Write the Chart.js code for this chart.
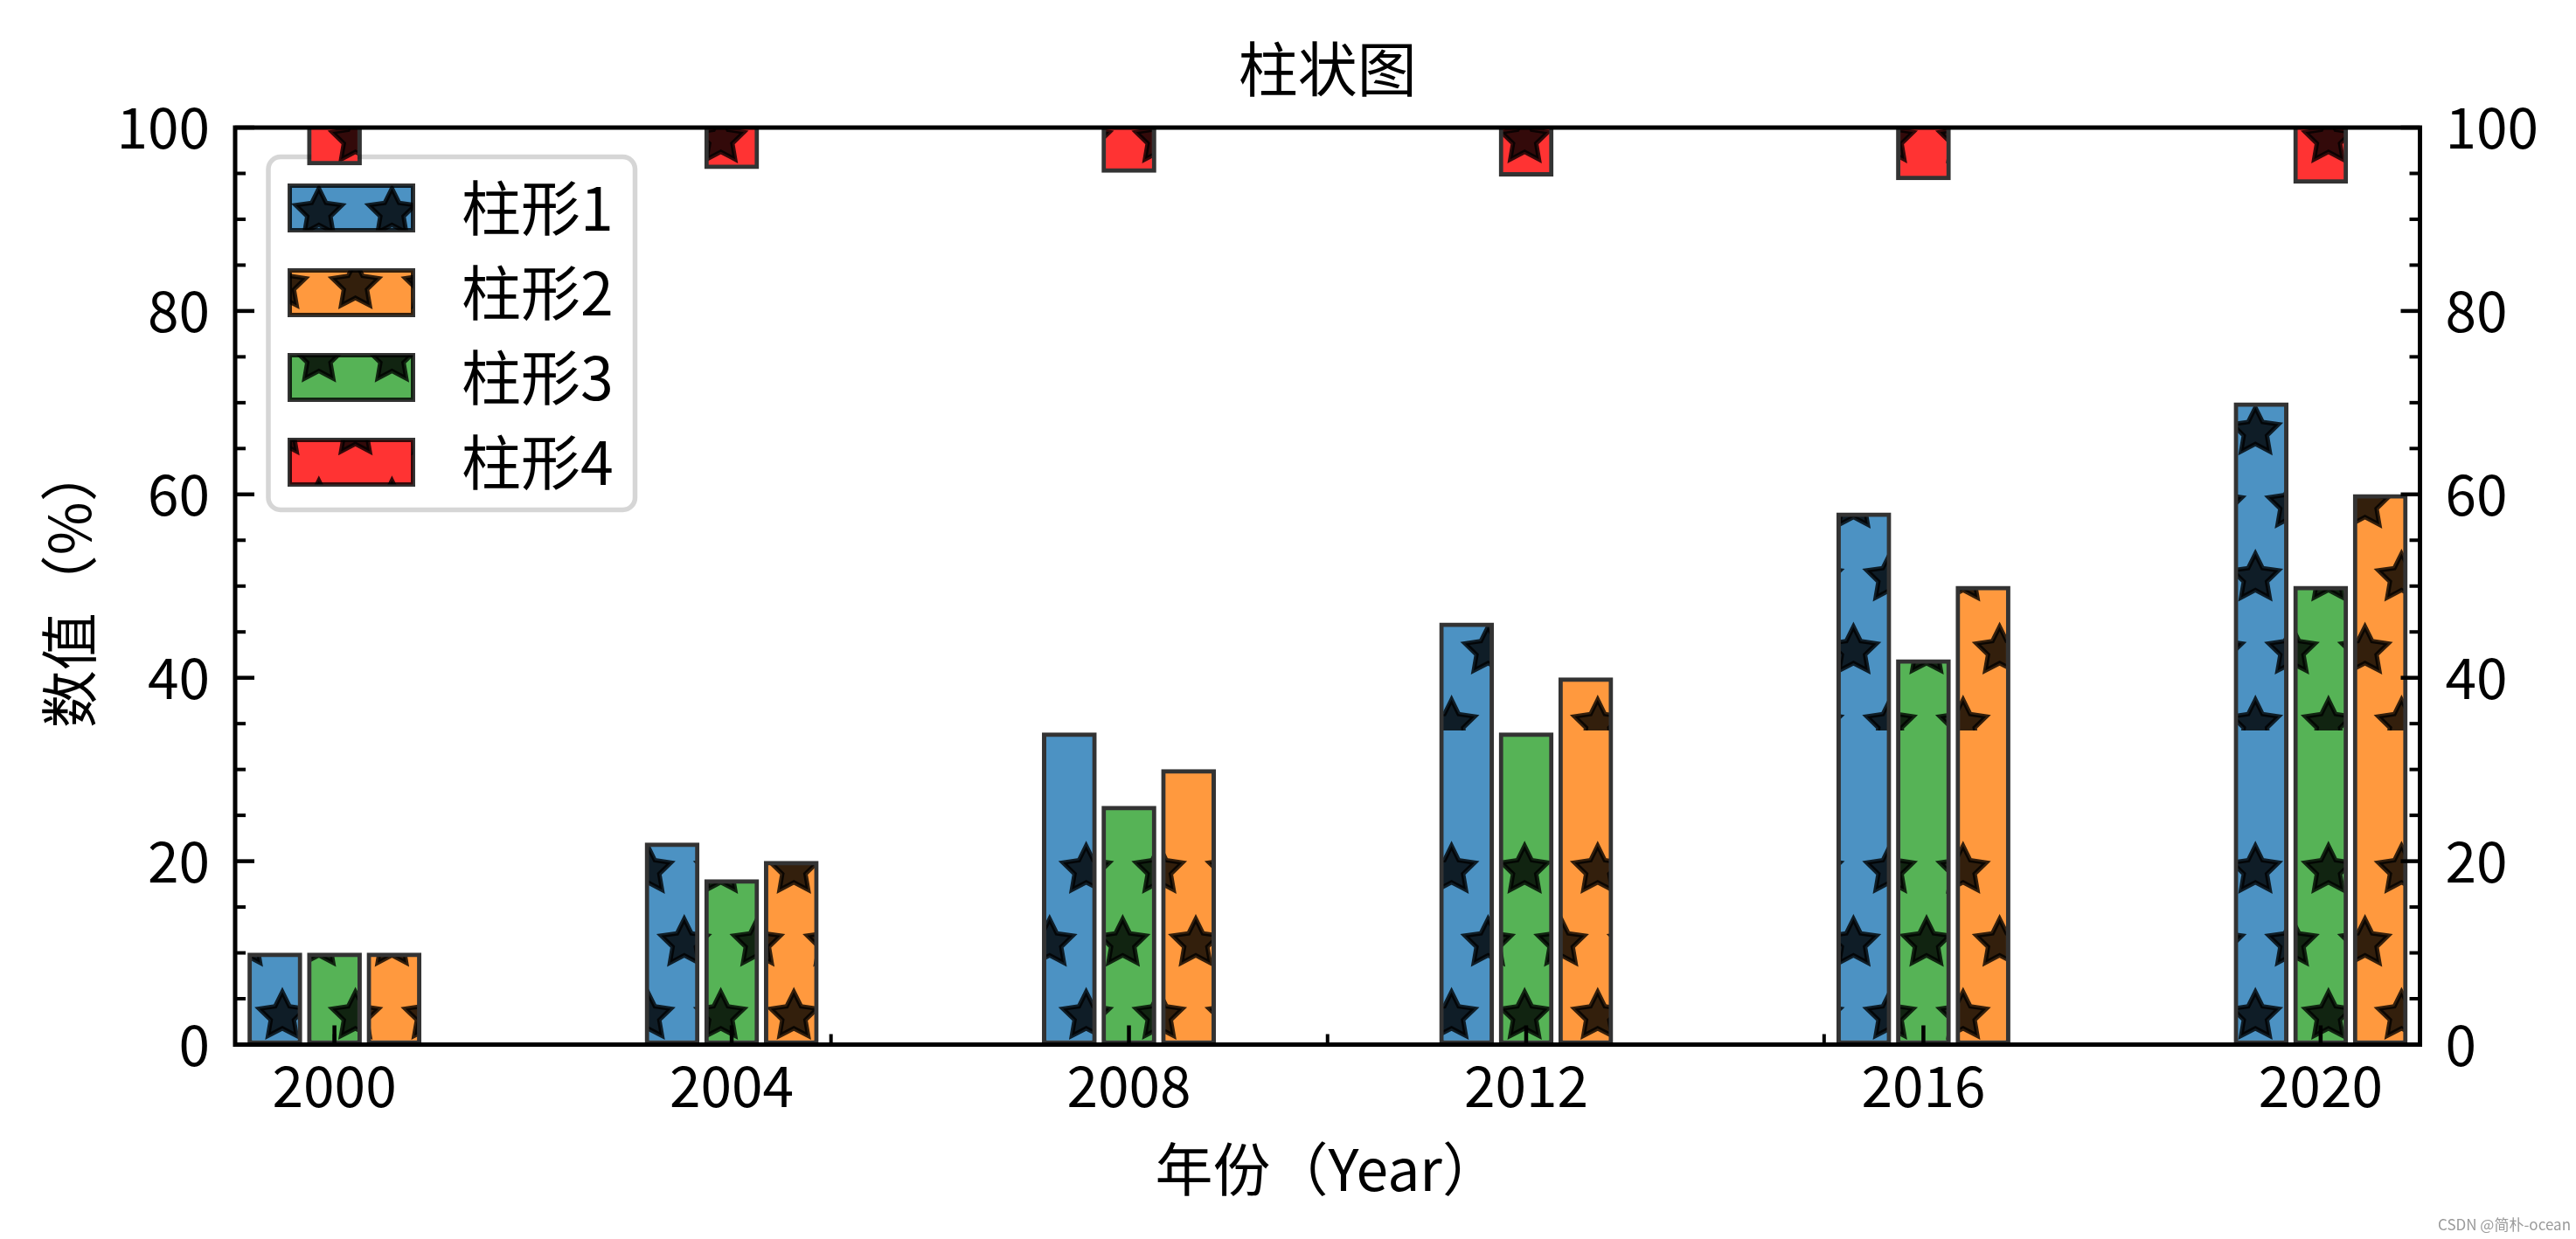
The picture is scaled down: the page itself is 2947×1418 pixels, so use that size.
<!DOCTYPE html>
<html>
<head>
<meta charset="utf-8">
<title>柱状图</title>
<script src="https://cdn.jsdelivr.net/npm/chart.js@4.4.1/dist/chart.umd.min.js"></script>
<style>
  html, body { margin: 0; padding: 0; background: #ffffff; }
  canvas { display: block; }
</style>
</head>
<body>
<canvas id="grafico" width="2947" height="1418"></canvas>
<script>
// dados do gráfico
const anos = [2000, 2004, 2008, 2012, 2016, 2020];
const anosMenores = [2000, 2005, 2010, 2015, 2020];
const yMaiores = [0, 20, 40, 60, 80, 100];
const yMenores = [5, 10, 15, 25, 30, 35, 45, 50, 55, 65, 70, 75, 85, 90, 95];
const nomes = ['柱形1', '柱形2', '柱形3', '柱形4'];
const valores1 = [10, 22, 34, 46, 58, 70];
const valores2 = [10, 20, 30, 40, 50, 60];
const valores3 = [10, 18, 26, 34, 42, 50];
const base4 = [95.9, 95.5, 95.1, 94.7, 94.3, 93.9];
const topo4 = [102, 102, 102, 102, 102, 102];

const fonte = '"Noto Sans CJK SC", "Noto Sans", sans-serif';
const passo = 83.6; // espaço entre estrelas do hachurado

function caminhoEstrela(ctx, cx, cy, r) {
  ctx.beginPath();
  for (let k = 0; k < 10; k++) {
    const rr = k % 2 === 0 ? r : r * 0.5;
    const a = Math.PI / 2 + k * Math.PI / 5;
    const px = cx + rr * Math.cos(a);
    const py = cy - rr * Math.sin(a);
    if (k === 0) ctx.moveTo(px, py); else ctx.lineTo(px, py);
  }
  ctx.closePath();
}

// padrão de estrelas (hatch '*'), alinhado ao canvas inteiro
function criarHachura(cor) {
  const tile = document.createElement('canvas');
  tile.width = 836;
  tile.height = 836;
  const t = tile.getContext('2d');
  t.fillStyle = '#ffffff';
  t.fillRect(0, 0, 836, 836);
  t.fillStyle = cor;
  t.fillRect(0, 0, 836, 836);
  t.lineWidth = 5;
  t.lineJoin = 'miter';
  for (let j = -2; j <= 12; j++) {
    for (let i = -5; i <= 8; i++) {
      const cx = 323 + i * passo + (Math.abs(j) % 2 === 1 ? passo / 2 : 0);
      const cy = 327 + j * passo;
      caminhoEstrela(t, cx, cy, passo / 3);
      t.fillStyle = 'rgba(0,0,0,0.8)';
      t.fill();
      t.strokeStyle = 'rgba(0,0,0,0.8)';
      t.stroke();
    }
  }
  return t.createPattern(tile, 'repeat');
}

const cores = ['rgba(31,119,180,0.8)', 'rgba(255,127,14,0.8)', 'rgba(44,160,44,0.8)', 'rgba(255,0,0,0.8)'];
const hachuras = cores.map(criarHachura);
const deslocamento = [-0.6, 0.6, 0]; // posição de cada série dentro do grupo

function serie(indice, valores) {
  return {
    label: nomes[indice],
    data: anos.map((ano, i) => ({ x: ano + deslocamento[indice], y: valores[i] })),
    backgroundColor: hachuras[indice],
    borderColor: 'rgba(0,0,0,0.8)',
    borderWidth: 5,
    borderSkipped: false,
    barThickness: 62,
    grouped: false,
    order: 1
  };
}

const datasets = [
  serie(0, valores1),
  serie(1, valores2),
  serie(2, valores3),
  {
    label: nomes[3],
    data: anos.map((ano, i) => ({ x: ano, y: [base4[i], topo4[i]] })),
    backgroundColor: hachuras[3],
    borderColor: 'rgba(0,0,0,0.8)',
    borderWidth: 5,
    borderSkipped: false,
    barThickness: 62,
    grouped: false,
    clip: 0,
    order: 0
  }
];

function linha(ctx, x1, y1, x2, y2) {
  ctx.beginPath();
  ctx.moveTo(x1, y1);
  ctx.lineTo(x2, y2);
  ctx.stroke();
}

function desenharLegenda(chart) {
  const ctx = chart.ctx;
  ctx.save();
  ctx.beginPath();
  ctx.roundRect(307, 179.5, 419.5, 404, 14);
  ctx.fillStyle = 'rgba(255,255,255,0.8)';
  ctx.fill();
  ctx.lineWidth = 5.5;
  ctx.strokeStyle = 'rgba(204,204,204,0.8)';
  ctx.stroke();

  const linhas = [238, 335, 432, 529];
  chart.data.datasets.forEach((ds, i) => {
    const cy = linhas[i];
    ctx.fillStyle = ds.backgroundColor;
    ctx.fillRect(331.5, cy - 25.5, 141, 51);
    ctx.lineWidth = 5;
    ctx.strokeStyle = 'rgba(0,0,0,0.8)';
    ctx.strokeRect(331.5, cy - 25.5, 141, 51);
    ctx.fillStyle = '#000000';
    ctx.font = '68px ' + fonte;
    ctx.textAlign = 'left';
    ctx.textBaseline = 'middle';
    ctx.fillText(ds.label, 528, cy);
  });
  ctx.restore();
}

const pluginMoldura = {
  id: 'moldura',
  beforeDatasetDraw(chart, args) {
    // a legenda fica entre as barras 1-3 e as barras vermelhas
    if (args.index === 3) desenharLegenda(chart);
  },
  afterDatasetsDraw(chart) {
    const ctx = chart.ctx;
    const area = chart.chartArea;
    const x = chart.scales.x;
    const y = chart.scales.y;
    ctx.save();
    ctx.strokeStyle = '#000000';
    ctx.lineCap = 'butt';

    // marcas para dentro
    ctx.lineWidth = 4.5;
    yMaiores.forEach(v => {
      const py = y.getPixelForValue(v);
      linha(ctx, area.left, py, area.left + 22, py);
      linha(ctx, area.right, py, area.right - 22, py);
    });
    anos.forEach(v => {
      const px = x.getPixelForValue(v);
      linha(ctx, px, area.bottom, px, area.bottom - 22);
    });
    ctx.lineWidth = 4;
    yMenores.forEach(v => {
      const py = y.getPixelForValue(v);
      linha(ctx, area.left, py, area.left + 12, py);
      linha(ctx, area.right, py, area.right - 12, py);
    });
    anosMenores.forEach(v => {
      const px = x.getPixelForValue(v);
      linha(ctx, px, area.bottom, px, area.bottom - 12);
    });

    ctx.lineWidth = 5;
    ctx.strokeRect(area.left, area.top, area.right - area.left, area.bottom - area.top);
    ctx.restore();
  },
  afterDraw(chart) {
    const ctx = chart.ctx;
    const area = chart.chartArea;
    ctx.save();
    ctx.fillStyle = '#000000';
    ctx.font = '68px ' + fonte;
    ctx.textAlign = 'center';
    ctx.textBaseline = 'middle';
    ctx.fillText('柱状图', (area.left + area.right) / 2, 79);

    ctx.fillStyle = '#9a9a9a';
    ctx.font = '17px ' + fonte;
    ctx.textAlign = 'right';
    ctx.fillText('CSDN @简朴-ocean', 2941, 1402);
    ctx.restore();
  }
};

Chart.defaults.font.family = fonte;
Chart.defaults.color = '#000000';

const eixoY = {
  min: 0,
  max: 100,
  grid: { display: false, drawTicks: false },
  border: { display: false },
  ticks: { stepSize: 20, padding: 29, font: { size: 64 }, color: '#000000', callback: v => String(v) }
};

new Chart(document.getElementById('grafico'), {
  type: 'bar',
  data: { datasets: datasets },
  plugins: [pluginMoldura],
  options: {
    responsive: false,
    animation: false,
    devicePixelRatio: 1,
    events: [],
    layout: { padding: { top: 146, left: 0, right: 0, bottom: 0 } },
    plugins: {
      legend: { display: false },
      title: { display: false },
      tooltip: { enabled: false }
    },
    scales: {
      x: {
        type: 'linear',
        min: 1999,
        max: 2021,
        offset: false,
        grid: { display: false, drawTicks: false, offset: false },
        border: { display: false },
        afterBuildTicks: scale => { scale.ticks = anos.map(v => ({ value: v })); },
        afterFit: scale => { scale.height = 222.5; },
        ticks: { padding: 9, font: { size: 64 }, color: '#000000', maxRotation: 0, autoSkip: false, callback: v => String(v) },
        title: { display: true, text: '年份（Year）', font: { size: 66 }, color: '#000000', padding: { top: 0, bottom: 40 } }
      },
      y: Object.assign({}, eixoY, {
        position: 'left',
        afterFit: scale => { scale.width = 269; },
        title: { display: true, text: '数值（%）', font: { size: 66 }, color: '#000000', padding: { top: 39, bottom: 0 } }
      }),
      y2: Object.assign({}, eixoY, {
        position: 'right',
        afterFit: scale => { scale.width = 178.5; }
      })
    }
  }
});
</script>
</body>
</html>
